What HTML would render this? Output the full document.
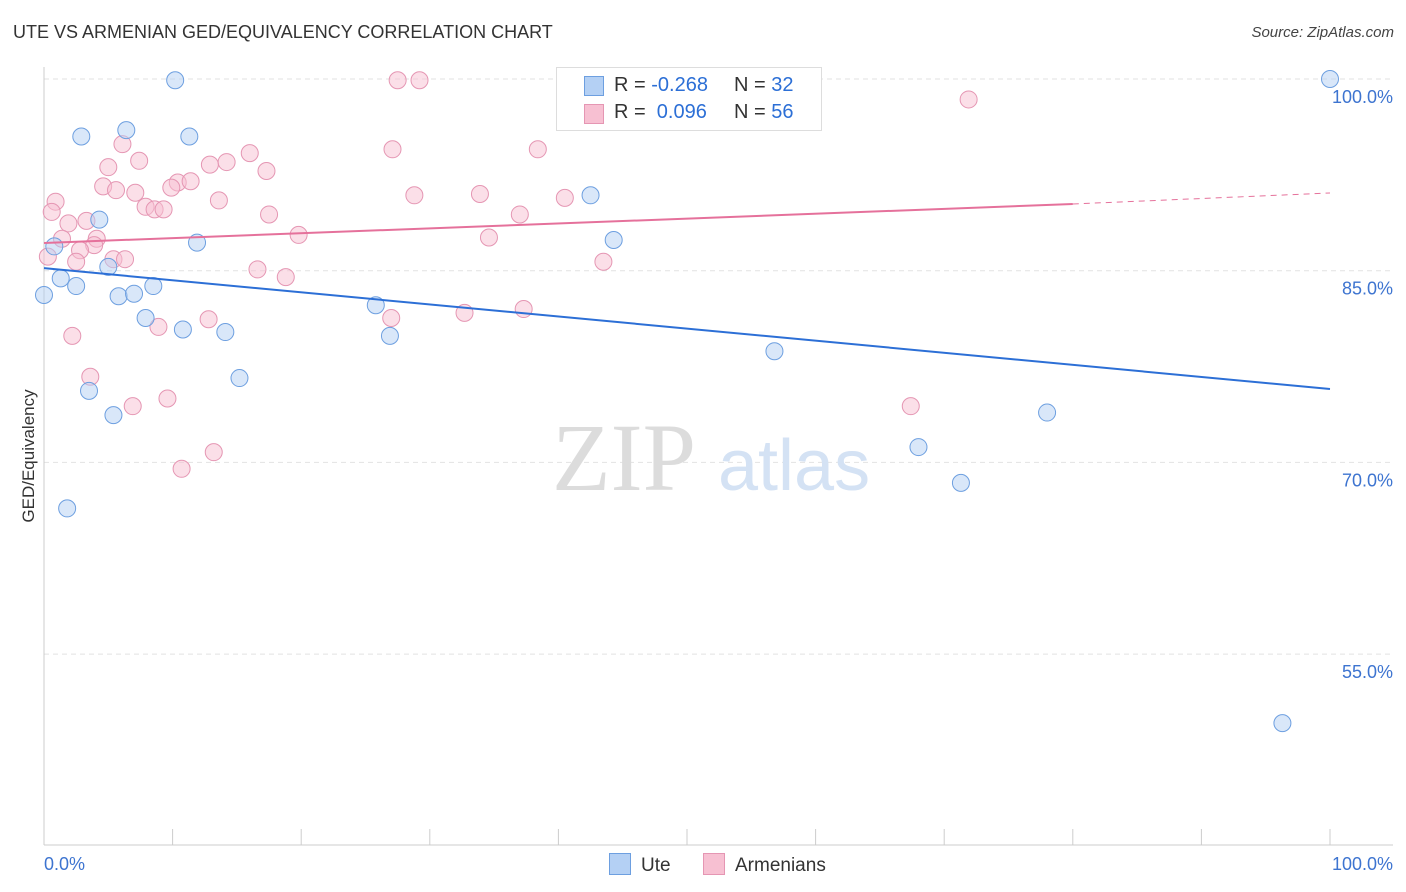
<!DOCTYPE html>
<html><head><meta charset="utf-8"><style>
body{margin:0;background:#fff;font-family:"Liberation Sans",sans-serif;}
#c{position:relative;width:1406px;height:892px;overflow:hidden;}
.t{position:absolute;white-space:nowrap;}
</style></head><body>
<div id="c">
<div class="t" style="left:13px;top:22px;font-size:18px;color:#333;">UTE VS ARMENIAN GED/EQUIVALENCY CORRELATION CHART</div>
<div class="t" style="right:12px;top:24px;font-size:15px;color:#444;font-style:italic;">Source: ZipAtlas.com</div>
<svg id="s" width="1406" height="892" style="position:absolute;left:0;top:0"></svg>
</div>
<script>
const yTicks=[100,85,70,55];
const yTickLabels=["100.0%","85.0%","70.0%","55.0%"];
const uteX=[10.2,2.9,6.4,11.3,4.3,11.9,0.8,1.3,2.5,5.0,5.8,7.0,8.5,0,7.9,10.8,14.1,25.8,26.9,15.2,3.5,5.4,1.8,42.5,44.3,54.6,56.8,68.0,71.3,78.0,96.3,100];
const uteY=[99.9,95.5,96.0,95.5,89.0,87.2,86.9,84.4,83.8,85.3,83.0,83.2,83.8,83.1,81.3,80.4,80.2,82.3,79.9,76.6,75.6,73.7,66.4,90.9,87.4,100,78.7,71.2,68.4,73.9,49.6,100];
const armX=[27.5,29.2,71.9,6.1,5.0,7.4,16.0,12.9,14.2,17.3,27.1,38.4,4.6,5.6,7.1,10.4,11.4,9.9,13.6,0.9,0.6,7.9,8.6,9.3,3.3,1.9,17.5,28.8,33.9,37.0,40.5,1.4,4.1,3.9,2.8,19.8,34.6,5.4,6.3,2.5,16.6,18.8,43.5,0.3,12.8,8.9,27.0,32.7,37.3,2.2,3.6,6.9,9.6,67.4,10.7,13.2];
const armY=[99.9,99.9,98.4,94.9,93.1,93.6,94.2,93.3,93.5,92.8,94.5,94.5,91.6,91.3,91.1,91.9,92.0,91.5,90.5,90.4,89.6,90.0,89.8,89.8,88.9,88.7,89.4,90.9,91.0,89.4,90.7,87.5,87.5,87.0,86.6,87.8,87.6,85.9,85.9,85.7,85.1,84.5,85.7,86.1,81.2,80.6,81.3,81.7,82.0,79.9,76.7,74.4,75.0,74.4,69.5,70.8];
const uteTrend=[[0,85.2],[100,75.74]];
const armTrend=[[0,87.17],[80,90.22],[100,91.08]];
const xTicks=[0,10,20,30,40,50,60,70,80,90,100];
const NS='http://www.w3.org/2000/svg';
const s=document.getElementById('s');
const X0=44,X1=1330,Y100=79,PPU=12.78;
const sx=v=>X0+(X1-X0)*v/100;
const sy=v=>Y100+(100-v)*PPU;
function mk(t,a,p){const e=document.createElementNS(NS,t);for(const k in a)e.setAttribute(k,a[k]);(p||s).appendChild(e);return e;}
yTicks.forEach((v,i)=>{
 const g=mk('line',{x1:44,x2:1393,y1:sy(v),y2:sy(v),stroke:'#e2e2e2','stroke-dasharray':'5,4'});
 
 
 const t=mk('text',{x:1393,y:sy(v)+24,'text-anchor':'end','font-size':'18',fill:'#3d74d0','font-family':'Liberation Sans, sans-serif'});
 t.textContent=yTickLabels[i];
 
 
});
mk('line',{x1:44,x2:44,y1:67,y2:845,stroke:'#ccc'});
mk('line',{x1:44,x2:1393,y1:845,y2:845,stroke:'#ccc'});
xTicks.forEach(v=>{
 const l=mk('line',{x1:sx(v),x2:sx(v),y1:829,y2:845,stroke:'#ccc'});
 
 
});
[['0.0%',44,'start'],['100.0%',1393,'end']].forEach(a=>{const t=mk('text',{x:a[1],y:870,'text-anchor':a[2],'font-size':'18',fill:'#3d74d0','font-family':'Liberation Sans, sans-serif'});t.textContent=a[0];
 
 });
const yt=mk('text',{x:34,y:456,'text-anchor':'middle','font-size':'17',fill:'#333',transform:'rotate(-90 34 456)','font-family':'Liberation Sans, sans-serif'});
yt.textContent='GED/Equivalency';


const w=mk('text',{x:552,y:490,'font-size':'96',fill:'#dcdcdc','font-family':'Liberation Serif, serif'});w.textContent='ZIP';


const w2=mk('text',{x:718,y:490,'font-size':'72',fill:'#d4e2f4','font-family':'Liberation Sans, sans-serif'});w2.textContent='atlas';


function pts(xs,ys,fill,stroke,name){xs.forEach((v,i)=>{const c=mk('circle',{cx:sx(v),cy:sy(ys[i]),r:8.5,fill:fill,'fill-opacity':0.5,stroke:stroke,'stroke-width':1});
 
 });}
pts(armX,armY,'#f7c0d2','#e596b3','armenian-point');
pts(uteX,uteY,'#b4d0f4','#6d9fe0','ute-point');
const ul=mk('line',{x1:sx(uteTrend[0][0]),y1:sy(uteTrend[0][1]),x2:sx(uteTrend[1][0]),y2:sy(uteTrend[1][1]),stroke:'#2c6fd6','stroke-width':2});


const al=mk('line',{x1:sx(armTrend[0][0]),y1:sy(armTrend[0][1]),x2:sx(armTrend[1][0]),y2:sy(armTrend[1][1]),stroke:'#e5719b','stroke-width':2});


const ad=mk('line',{x1:sx(armTrend[1][0]),y1:sy(armTrend[1][1]),x2:sx(armTrend[2][0]),y2:sy(armTrend[2][1]),stroke:'#e5719b','stroke-width':1,'stroke-dasharray':'6,5'});


</script>
<div class="t" style="left:556px;top:67px;width:264px;height:62px;border:1px solid #ddd;background:#fff;font-size:20px;color:#333;">
 <div style="position:absolute;left:27px;top:8px;width:18px;height:18px;background:#b4d0f4;border:1px solid #6d9fe0;"></div>
 <div class="t" style="left:57px;top:6px;">R = <span style="color:#2c6fd6">-0.268</span></div>
 <div class="t" style="left:177px;top:6px;">N = <span style="color:#2c6fd6">32</span></div>
 <div style="position:absolute;left:27px;top:36px;width:18px;height:18px;background:#f7c0d2;border:1px solid #e596b3;"></div>
 <div class="t" style="left:57px;top:33px;">R = &nbsp;<span style="color:#2c6fd6">0.096</span></div>
 <div class="t" style="left:177px;top:33px;">N = <span style="color:#2c6fd6">56</span></div>
</div>
<div class="t" style="left:609px;top:853px;font-size:19px;color:#333;"><span style="display:inline-block;width:20px;height:20px;background:#b4d0f4;border:1px solid #6d9fe0;vertical-align:-4px;margin-right:10px;"></span>Ute</div>
<div class="t" style="left:703px;top:853px;font-size:19px;color:#333;"><span style="display:inline-block;width:20px;height:20px;background:#f7c0d2;border:1px solid #e596b3;vertical-align:-4px;margin-right:10px;"></span>Armenians</div>
</body></html>
